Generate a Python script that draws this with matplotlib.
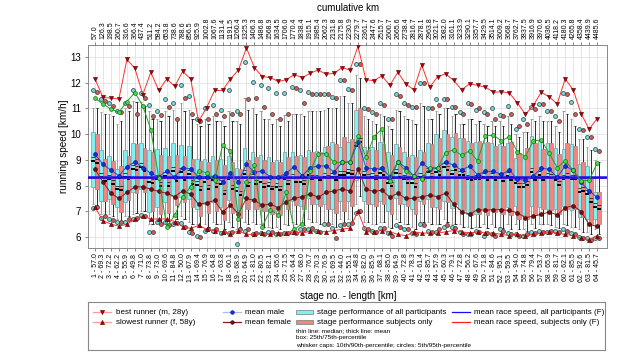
import matplotlib
matplotlib.use('Agg')
import matplotlib.pyplot as plt
from matplotlib.patches import Rectangle
import numpy as np

plt.rcParams['font.family'] = ['Liberation Sans', 'DejaVu Sans']

# stage lengths [km] and cumulative km (top axis)
stage_len = [57.0, 69.3, 72.2, 62.2, 55.9, 49.8, 71.0, 73.8, 73.0, 69.6, 84.8, 50.0, 67.9, 69.4, 76.9, 64.8,
             63.8, 60.1, 68.9, 64.9, 81.0, 80.5, 82.1, 65.6, 71.5, 64.4, 68.0, 76.7, 70.3, 76.9, 69.5, 44.0,
             55.1, 48.8, 82.0, 85.9, 68.1, 85.0, 64.9, 72.8, 78.3, 61.4, 85.7, 57.9, 60.3, 79.1, 72.8, 56.2,
             67.6, 71.8, 84.6, 95.1, 59.5, 94.0, 74.8, 79.4, 53.7, 65.9, 81.7, 62.1, 85.5, 92.6, 81.5, 45.7]
cum_km = [57.0, 126.3, 198.5, 260.7, 316.6, 366.4, 437.4, 511.2, 584.2, 653.8, 738.6, 788.6, 856.5, 925.9,
          1002.8, 1067.6, 1131.4, 1191.5, 1260.4, 1325.3, 1406.3, 1486.8, 1568.9, 1634.5, 1706.0, 1770.4,
          1838.4, 1915.1, 1985.4, 2062.3, 2131.8, 2175.8, 2230.9, 2279.7, 2361.7, 2447.6, 2515.7, 2600.7,
          2665.6, 2738.4, 2816.7, 2878.1, 2963.8, 3021.7, 3082.0, 3161.1, 3233.9, 3290.1, 3357.7, 3429.5,
          3514.1, 3609.2, 3668.7, 3762.7, 3837.5, 3916.9, 3970.6, 4036.5, 4118.2, 4180.3, 4265.8, 4358.4,
          4439.9, 4485.6]

# single runners / means [km/h]
best = [12.15, 11.43, 11.40, 11.37, 12.91, 12.56, 11.54, 12.41, 11.70, 12.15, 11.86, 12.44, 12.15, 10.50,
        11.03, 11.70, 11.70, 12.15, 12.50, 13.36, 12.59, 12.24, 12.20, 12.05, 12.12, 12.32, 12.20, 12.37,
        12.50, 12.33, 12.37, 12.59, 12.50, 13.42, 12.12, 12.08, 12.27, 11.90, 12.41, 11.95, 11.73, 12.69,
        11.82, 12.24, 12.35, 12.09, 11.73, 11.96, 11.90, 11.83, 11.63, 11.65, 11.60, 11.22, 10.77, 11.12,
        11.63, 11.45, 11.18, 12.15, 11.73, 10.80, 10.20, 10.60]
slowest = [7.15, 6.63, 6.50, 6.42, 6.50, 6.69, 6.81, 6.70, 6.70, 6.70, 6.60, 6.40, 6.33, 6.45, 6.30, 6.25,
           6.20, 6.13, 6.23, 6.10, 6.10, 6.15, 6.10, 6.15, 6.15, 6.20, 6.15, 6.22, 6.22, 6.20, 6.25, 6.30,
           6.35, 7.00, 6.20, 6.20, 6.25, 6.20, 6.10, 6.05, 6.20, 6.15, 6.15, 6.15, 6.20, 6.25, 6.20, 6.15,
           6.20, 6.15, 6.15, 6.10, 6.05, 6.10, 6.05, 6.10, 6.15, 6.20, 6.15, 6.10, 6.05, 5.95, 5.90, 6.05]
mean_male = [9.22, 8.83, 8.60, 8.38, 8.74, 8.92, 8.70, 8.48, 8.34, 8.57, 8.34, 8.70, 8.64, 8.34, 8.32, 8.38,
             8.15, 8.47, 8.15, 8.83, 8.51, 8.57, 8.34, 8.32, 8.48, 8.74, 8.38, 8.70, 8.76, 8.76, 8.53, 8.90,
             8.92, 9.69, 8.70, 8.64, 8.69, 8.34, 8.92, 8.70, 8.38, 8.87, 8.66, 8.70, 8.93, 8.79, 8.60, 8.76,
             8.42, 8.55, 8.55, 8.44, 8.60, 8.25, 8.21, 8.38, 8.67, 8.64, 8.32, 8.76, 8.60, 8.12, 7.80, 7.54]
mean_female = [8.63, 8.14, 7.70, 7.50, 7.73, 7.95, 7.95, 7.86, 7.77, 7.70, 7.57, 7.79, 7.67, 7.27, 7.33, 7.42,
               6.97, 7.23, 6.90, 7.50, 7.42, 7.24, 7.27, 7.14, 7.37, 7.50, 7.57, 7.67, 7.55, 7.73, 7.79, 7.86,
               7.79, 8.64, 7.86, 7.77, 7.82, 7.55, 7.70, 7.50, 7.50, 7.57, 7.62, 7.57, 7.70, 7.28, 6.99, 6.88,
               7.06, 7.04, 7.06, 7.06, 7.03, 6.94, 6.75, 6.81, 6.88, 6.97, 6.86, 7.14, 7.22, 6.99, 6.49, 6.41]
subject_g = [11.40, 11.17, 10.98, 10.85, 11.27, 11.62, 11.10, 10.18, 8.30, 6.39, 6.84, 7.55, 7.96, 8.58,
             8.50, 8.21, 9.56, 9.34, 6.70, 8.14, 8.79, 6.40, 7.06, 6.86, 7.73, 6.30, 6.50, 8.57, 9.24, 9.24,
             8.90, 8.90, 8.92, 9.92, 9.10, 9.90, 10.20, 8.18, 8.92, 8.55, 8.38, 8.25, 8.70, 8.70, 9.28, 9.39,
             9.18, 9.35, 8.96, 9.93, 9.96, 9.74, 9.90, 9.32, 9.12, 9.74, 9.77, 9.25, 8.70, 8.96, 8.60, 8.19,
             8.20, 8.86]

# stage performance, all participants
all_p5 = [7.12, 6.75, 6.70, 6.60, 6.60, 6.70, 6.85, 6.20, 6.60, 6.60, 6.50, 6.55, 6.20, 6.05, 6.25, 6.25,
          6.15, 6.15, 5.72, 6.25, 6.10, 6.15, 6.20, 6.10, 6.15, 6.20, 6.30, 6.30, 6.25, 6.50, 6.35, 6.45,
          6.50, 6.95, 6.35, 6.25, 6.35, 6.15, 6.45, 6.30, 6.15, 6.50, 6.25, 6.20, 6.40, 6.40, 6.20, 6.10,
          6.25, 6.05, 6.10, 6.30, 6.15, 6.10, 6.05, 6.20, 6.25, 6.20, 6.25, 6.30, 6.15, 6.00, 5.95, 5.95]
all_p10 = [7.30, 6.90, 6.90, 6.70, 6.80, 6.90, 7.00, 6.50, 6.70, 6.70, 6.80, 6.80, 6.60, 6.50, 6.50, 6.60,
           6.50, 6.60, 6.30, 6.60, 6.60, 6.50, 6.40, 6.40, 6.50, 6.60, 6.50, 6.70, 6.60, 6.60, 6.50, 6.70,
           6.70, 7.30, 6.60, 6.50, 6.60, 6.40, 6.70, 6.50, 6.40, 6.60, 6.60, 6.50, 6.70, 6.50, 6.50, 6.40,
           6.40, 6.50, 6.50, 6.40, 6.50, 6.50, 6.30, 6.50, 6.50, 6.50, 6.40, 6.50, 6.40, 6.30, 6.20, 6.30]
all_q25 = [7.93, 7.38, 7.48, 7.16, 7.35, 7.73, 7.86, 6.97, 7.16, 7.35, 7.60, 7.57, 7.48, 7.10, 7.30, 7.35,
           7.16, 7.42, 6.97, 7.50, 7.40, 7.20, 7.00, 7.00, 7.30, 7.40, 7.20, 7.50, 7.30, 7.30, 7.10, 7.40,
           7.40, 8.20, 7.40, 7.30, 7.40, 7.00, 7.50, 7.30, 7.10, 7.40, 7.48, 7.16, 7.41, 7.12, 7.09, 6.90,
           6.90, 7.12, 7.09, 7.09, 7.16, 7.22, 6.84, 7.22, 7.16, 7.09, 7.09, 7.22, 7.03, 6.77, 6.71, 6.71]
all_med = [9.10, 8.48, 8.42, 8.00, 8.47, 8.80, 8.86, 8.29, 8.40, 8.51, 8.73, 8.67, 8.60, 8.18, 8.28, 8.35,
           8.20, 8.39, 7.94, 8.59, 8.45, 8.30, 8.15, 8.10, 8.40, 8.45, 8.30, 8.55, 8.43, 8.50, 8.50, 8.55,
           8.65, 9.68, 8.55, 8.50, 8.65, 8.25, 8.65, 8.40, 8.25, 8.50, 8.68, 8.68, 8.88, 8.61, 8.58, 8.42,
           8.40, 8.50, 8.48, 8.45, 8.52, 8.26, 8.10, 8.67, 8.55, 8.48, 8.38, 8.42, 8.42, 7.90, 7.84, 7.33]
all_mean = [8.95, 8.33, 8.27, 7.85, 8.32, 8.65, 8.71, 8.14, 8.25, 8.36, 8.58, 8.52, 8.45, 8.03, 8.13, 8.20,
            8.05, 8.24, 7.79, 8.44, 8.30, 8.15, 8.00, 7.95, 8.25, 8.30, 8.15, 8.40, 8.28, 8.35, 8.35, 8.40,
            8.50, 9.53, 8.40, 8.35, 8.50, 8.10, 8.50, 8.25, 8.10, 8.35, 8.53, 8.53, 8.73, 8.46, 8.43, 8.27,
            8.25, 8.35, 8.33, 8.30, 8.37, 8.11, 7.95, 8.52, 8.40, 8.33, 8.23, 8.27, 8.27, 7.75, 7.69, 7.18]
all_q75 = [10.08, 9.37, 9.15, 8.64, 9.38, 9.66, 9.66, 9.40, 9.43, 9.47, 9.66, 9.56, 9.53, 9.05, 9.05, 9.15,
           9.05, 9.15, 8.70, 9.47, 9.30, 9.20, 9.10, 9.00, 9.30, 9.30, 9.20, 9.40, 9.35, 9.50, 9.70, 9.50,
           9.70, 10.95, 9.50, 9.50, 9.70, 9.30, 9.60, 9.30, 9.20, 9.40, 9.67, 9.99, 10.15, 9.90, 9.86, 9.73,
           9.69, 9.67, 9.67, 9.60, 9.67, 9.09, 9.15, 9.92, 9.73, 9.67, 9.47, 9.41, 9.60, 8.83, 8.76, 7.74]
all_p90 = [11.00, 10.85, 10.80, 10.40, 11.00, 11.30, 11.25, 10.90, 10.60, 10.90, 10.95, 11.20, 10.95, 10.40,
           10.60, 10.70, 10.50, 10.90, 10.50, 11.40, 11.00, 10.90, 10.60, 10.60, 10.75, 10.80, 10.80, 10.90,
           10.90, 10.95, 11.00, 11.50, 11.20, 12.30, 10.70, 10.50, 10.80, 10.30, 10.95, 10.70, 10.55, 11.20,
           10.60, 10.90, 11.00, 10.70, 10.40, 10.60, 10.40, 10.40, 10.50, 10.50, 10.70, 10.00, 10.10, 10.60,
           10.70, 10.50, 10.30, 10.90, 10.60, 9.80, 9.50, 9.00]
all_p95 = [11.73, 11.35, 11.20, 10.90, 11.20, 11.70, 11.60, 11.15, 10.90, 11.38, 11.20, 11.93, 11.50, 10.60,
           11.02, 11.15, 10.93, 11.73, 10.90, 12.80, 12.03, 11.90, 11.80, 11.60, 11.60, 11.85, 11.70, 11.65,
           11.55, 11.55, 11.45, 12.10, 11.75, 12.72, 11.00, 10.85, 11.22, 10.60, 11.55, 11.20, 11.07, 12.00,
           11.00, 11.37, 11.38, 11.07, 10.85, 11.20, 10.93, 10.85, 11.00, 10.75, 11.10, 10.20, 10.60, 11.05,
           11.17, 10.90, 10.70, 11.60, 11.25, 10.20, 9.90, 9.42]

# stage performance, subjects only
sub_p5 = [7.18, 6.80, 6.65, 6.60, 6.70, 6.75, 6.80, 6.20, 6.50, 6.45, 6.55, 6.40, 6.15, 6.00, 6.30, 6.30,
          6.20, 6.20, 6.30, 6.30, 6.15, 6.10, 6.20, 6.10, 6.15, 6.15, 6.30, 6.35, 6.20, 6.50, 5.95, 6.50,
          6.55, 7.00, 6.30, 6.20, 6.35, 6.05, 6.40, 6.30, 6.10, 6.45, 6.20, 6.30, 6.45, 6.35, 6.10, 6.10,
          6.20, 6.15, 6.05, 6.25, 6.10, 6.05, 6.10, 6.15, 6.20, 6.25, 6.20, 6.25, 6.10, 5.95, 5.90, 5.95]
sub_p10 = [7.25, 6.85, 6.80, 6.60, 6.80, 6.95, 7.00, 6.50, 6.50, 6.50, 6.70, 6.70, 6.50, 6.40, 6.40, 6.50,
           6.30, 6.40, 6.40, 6.50, 6.50, 6.40, 6.35, 6.30, 6.45, 6.50, 6.45, 6.60, 6.50, 6.50, 6.40, 6.50,
           6.60, 7.60, 6.60, 6.50, 6.60, 6.35, 6.60, 6.50, 6.30, 6.60, 6.50, 6.50, 6.60, 6.50, 6.40, 6.35,
           6.40, 6.35, 6.40, 6.35, 6.30, 6.30, 6.25, 6.35, 6.50, 6.45, 6.35, 6.45, 6.40, 6.20, 6.10, 6.10]
sub_q25 = [7.86, 7.38, 7.30, 6.97, 7.42, 7.70, 7.73, 7.00, 6.88, 6.92, 7.25, 7.35, 7.15, 6.80, 6.92, 7.00,
           6.66, 6.92, 6.75, 7.10, 7.10, 7.00, 6.90, 6.85, 7.10, 7.25, 7.10, 7.30, 7.20, 7.10, 6.95, 7.00,
           7.20, 8.50, 7.30, 7.20, 7.30, 6.90, 7.30, 7.20, 6.90, 7.30, 7.16, 7.09, 7.35, 7.29, 7.03, 6.86,
           6.90, 6.86, 6.97, 6.90, 6.84, 6.71, 6.71, 6.84, 7.09, 7.03, 6.90, 7.09, 7.09, 6.77, 6.51, 6.51]
sub_med = [9.03, 8.32, 8.23, 7.97, 8.39, 8.75, 8.70, 8.25, 8.14, 8.14, 8.33, 8.35, 8.20, 7.98, 8.01, 8.10,
           7.83, 8.01, 7.80, 8.15, 8.20, 8.10, 8.00, 7.98, 8.20, 8.30, 8.20, 8.40, 8.35, 8.43, 8.38, 8.55,
           8.60, 9.85, 8.45, 8.40, 8.55, 8.15, 8.50, 8.25, 8.10, 8.40, 8.48, 8.58, 8.77, 8.76, 8.55, 8.37,
           8.42, 8.38, 8.36, 8.32, 8.37, 8.10, 8.19, 8.36, 8.37, 8.45, 8.16, 8.48, 8.42, 7.94, 7.52, 7.23]
sub_mean = [8.88, 8.17, 8.08, 7.82, 8.24, 8.60, 8.55, 8.10, 7.99, 7.99, 8.18, 8.20, 8.05, 7.83, 7.86, 7.95,
            7.68, 7.86, 7.65, 8.00, 8.05, 7.95, 7.85, 7.83, 8.05, 8.15, 8.05, 8.25, 8.20, 8.28, 8.23, 8.40,
            8.45, 9.70, 8.30, 8.25, 8.40, 8.00, 8.35, 8.10, 7.95, 8.25, 8.33, 8.43, 8.62, 8.61, 8.40, 8.22,
            8.27, 8.23, 8.21, 8.17, 8.22, 7.95, 8.04, 8.21, 8.22, 8.30, 8.01, 8.33, 8.27, 7.79, 7.37, 7.08]
sub_q75 = [9.99, 9.05, 8.96, 8.77, 9.15, 9.60, 9.47, 9.30, 9.20, 9.15, 9.20, 9.15, 9.05, 8.96, 8.90, 9.00,
           8.80, 8.90, 8.64, 9.00, 9.10, 9.00, 8.90, 8.90, 9.10, 9.15, 9.10, 9.30, 9.30, 9.55, 9.60, 9.90,
           9.80, 11.00, 9.40, 9.40, 9.60, 9.20, 9.50, 9.10, 9.10, 9.30, 9.60, 9.86, 9.99, 10.03, 9.86, 9.67,
           9.73, 9.69, 9.54, 9.54, 9.69, 9.28, 9.47, 9.67, 9.44, 9.67, 9.22, 9.67, 9.54, 8.90, 8.32, 7.74]
sub_p90 = [11.00, 10.80, 10.70, 10.50, 10.90, 11.25, 11.10, 10.60, 10.50, 10.70, 10.60, 10.90, 10.60, 10.30,
           10.40, 10.50, 10.30, 10.50, 10.40, 10.95, 10.80, 10.60, 10.40, 10.30, 10.50, 10.80, 10.70, 10.90,
           10.90, 11.00, 11.00, 11.50, 11.20, 12.20, 10.60, 10.40, 10.70, 10.20, 10.90, 10.60, 10.40, 11.10,
           10.60, 10.80, 11.00, 10.80, 10.40, 10.60, 10.50, 10.30, 10.30, 10.30, 10.40, 9.90, 10.10, 10.50,
           10.50, 10.50, 10.10, 10.80, 10.30, 9.80, 9.40, 8.90]
sub_p95 = [11.65, 11.30, 11.10, 10.85, 11.10, 10.80, 11.40, 10.70, 10.75, 11.05, 10.60, 11.40, 10.80, 10.50,
           10.60, 10.80, 10.70, 10.80, 10.80, 11.35, 11.40, 11.05, 10.80, 10.60, 10.80, 11.80, 11.20, 11.55,
           11.55, 11.55, 11.40, 12.10, 11.70, 12.72, 10.97, 10.80, 11.15, 10.60, 11.50, 11.15, 11.05, 12.00,
           11.00, 11.15, 11.38, 11.05, 10.77, 11.17, 11.00, 10.77, 10.60, 10.70, 10.77, 10.30, 10.40, 10.97,
           11.17, 10.90, 10.50, 11.55, 10.77, 10.15, 9.90, 9.35]

race_all = 8.35
race_sub = 8.29

n = len(stage_len)
x = np.arange(1, n + 1)
off = 0.23
bw = 0.44
cap = 0.3
cyan = '#80F0F0'
salmon = '#F28482'

fig = plt.figure(figsize=(6.4, 3.56), dpi=100)
ax = fig.add_axes([88/640, 108/356, 519/640, 203/356])
ax.set_xlim(0.12, 65.25)
ax.set_ylim(5.57, 13.47)
ax.grid(color='#dcdcdc', lw=0.5)
ax.set_axisbelow(True)

# boxes and whiskers
for pos, q25, q75, p10, p90, p5, p95, med, mn, fc, wc, cc in [
        (x - off, all_q25, all_q75, all_p10, all_p90, all_p5, all_p95, all_med, all_mean, cyan, '#9a9a9a', '#6ddede'),
        (x + off, sub_q25, sub_q75, sub_p10, sub_p90, sub_p5, sub_p95, sub_med, sub_mean, salmon, '#2a2a2a', '#d25a5a')]:
    q25 = np.array(q25); q75 = np.array(q75)
    ax.vlines(pos, q75, p90, color=wc, lw=0.7, zorder=2)
    ax.vlines(pos, p10, q25, color=wc, lw=0.7, zorder=2)
    ax.hlines(p90, pos - cap / 2, pos + cap / 2, color=wc, lw=0.7, zorder=2)
    ax.hlines(p10, pos - cap / 2, pos + cap / 2, color=wc, lw=0.7, zorder=2)
    ax.bar(pos, q75 - q25, bottom=q25, width=bw, color=fc, edgecolor='#7a7a7a', lw=0.4, zorder=3)
    ax.hlines(med, pos - bw / 2, pos + bw / 2, color='#222222', lw=0.6, zorder=4)
    ax.hlines(mn, pos - bw / 2, pos + bw / 2, color='black', lw=1.4, zorder=4)
    ax.plot(pos, p5, 'o', ms=2.8, mfc=cc, mec='#333333', mew=0.5, ls='none', zorder=5)
    ax.plot(pos, p95, 'o', ms=2.8, mfc=cc, mec='#333333', mew=0.5, ls='none', zorder=5)

ax.axhline(race_sub, color='#ff2020', lw=1.3, zorder=6)
ax.axhline(race_all, color='#1010ff', lw=1.8, zorder=6)

ax.plot(x, mean_female, '-o', color='#8b1c1c', lw=0.7, ms=2.8, mfc='#7a0a0a', mec='#3a0000', mew=0.4, zorder=7)
ax.plot(x, mean_male, '-o', color='#3048d0', lw=0.7, ms=2.8, mfc='#1030f0', mec='#000080', mew=0.4, zorder=7)
ax.plot(x, subject_g, '-o', color='#22a022', lw=0.7, ms=2.8, mfc='#40e040', mec='#105010', mew=0.4, zorder=7)
ax.plot(x, best, '-v', color='#ff3030', lw=0.7, ms=3, mfc='#b00000', mec='#500000', mew=0.4, zorder=8)
ax.plot(x, slowest, '-^', color='#ff3030', lw=0.7, ms=3, mfc='#b00000', mec='#500000', mew=0.4, zorder=8)

ax.set_xticks(x)
ax.set_xticklabels([f'{i} - {l:.1f}' for i, l in zip(x, stage_len)], rotation=90, fontsize=5.0)
ax.set_yticks(range(6, 14))
ax.tick_params(axis='x', length=2.5, width=0.5, pad=1.5, color='#555555')
ax.tick_params(axis='y', length=2.5, width=0.5, pad=2.5, labelsize=7, color='#555555')
ax.set_ylabel('running speed [km/h]', fontsize=7.2, labelpad=1)
for s in ax.spines.values():
    s.set_color('#888888')
    s.set_linewidth(0.7)

top = ax.twiny()
top.set_xlim(ax.get_xlim())
top.set_xticks(x)
top.set_xticklabels([f'{c:.1f}' for c in cum_km], rotation=90, fontsize=5.0)
top.tick_params(axis='x', length=2.5, width=0.5, pad=1.5, color='#555555')
for s in top.spines.values():
    s.set_visible(False)

fig.text(348/640, 1 - 8/356, 'cumulative km', ha='center', va='center', fontsize=7)
fig.text(348/640, 1 - 296/356, 'stage no. - length [km]', ha='center', va='center', fontsize=7)

# legend box
lax = fig.add_axes([88/640, 6/356, 517/640, 48/356])
lax.set_xlim(88, 605)
lax.set_ylim(350, 302)
lax.set_xticks([])
lax.set_yticks([])
for s in lax.spines.values():
    s.set_color('#888888')
    s.set_linewidth(0.8)

fs = 5.8
r1, r2 = 312, 322
lax.plot([93, 111], [r1, r1], color='#ff9a9a', lw=0.9)
lax.plot([102], [r1], 'v', ms=3, mfc='#b00000', mec='#500000', mew=0.4)
lax.text(116, r1, 'best runner (m, 28y)', va='center', fontsize=fs)
lax.plot([93, 111], [r2, r2], color='#ff9a9a', lw=0.9)
lax.plot([102], [r2], '^', ms=3, mfc='#b00000', mec='#500000', mew=0.4)
lax.text(116, r2, 'slowest runner (f, 58y)', va='center', fontsize=fs)

lax.plot([223, 241], [r1, r1], color='#b0b8e8', lw=0.9)
lax.plot([232], [r1], 'o', ms=2.6, mfc='#1030f0', mec='#000080', mew=0.4)
lax.text(245, r1, 'mean male', va='center', fontsize=fs)
lax.plot([223, 241], [r2, r2], color='#8b1c1c', lw=0.9)
lax.plot([232], [r2], 'o', ms=2.6, mfc='#7a0a0a', mec='#3a0000', mew=0.4)
lax.text(245, r2, 'mean female', va='center', fontsize=fs)

lax.add_patch(Rectangle((296, r1 - 2), 17, 4, facecolor=cyan, edgecolor='#7a7a7a', lw=0.5))
lax.text(317, r1, 'stage performance of all participants', va='center', fontsize=fs)
lax.add_patch(Rectangle((296, r2 - 2), 17, 4, facecolor=salmon, edgecolor='#7a7a7a', lw=0.5))
lax.text(317, r2, 'stage performance subjects only', va='center', fontsize=fs)

lax.plot([452, 470], [r1, r1], color='#1010ff', lw=0.9)
lax.text(474, r1, 'mean race speed, all participants (F)', va='center', fontsize=fs)
lax.plot([452, 470], [r2, r2], color='#ff2020', lw=0.9)
lax.text(474, r2, 'mean race speed, subjects only (F)', va='center', fontsize=fs)

sfs = 4.6
lax.text(296, 331, 'thin line: median; thick line: mean', va='center', fontsize=sfs)
lax.text(296, 338, 'box: 25th/75th-percentile', va='center', fontsize=sfs)
lax.text(296, 345, 'whisker caps: 10th/90th-percentile; circles: 5th/95th-percentile', va='center', fontsize=sfs)

fig.savefig('out.png', dpi=100)
